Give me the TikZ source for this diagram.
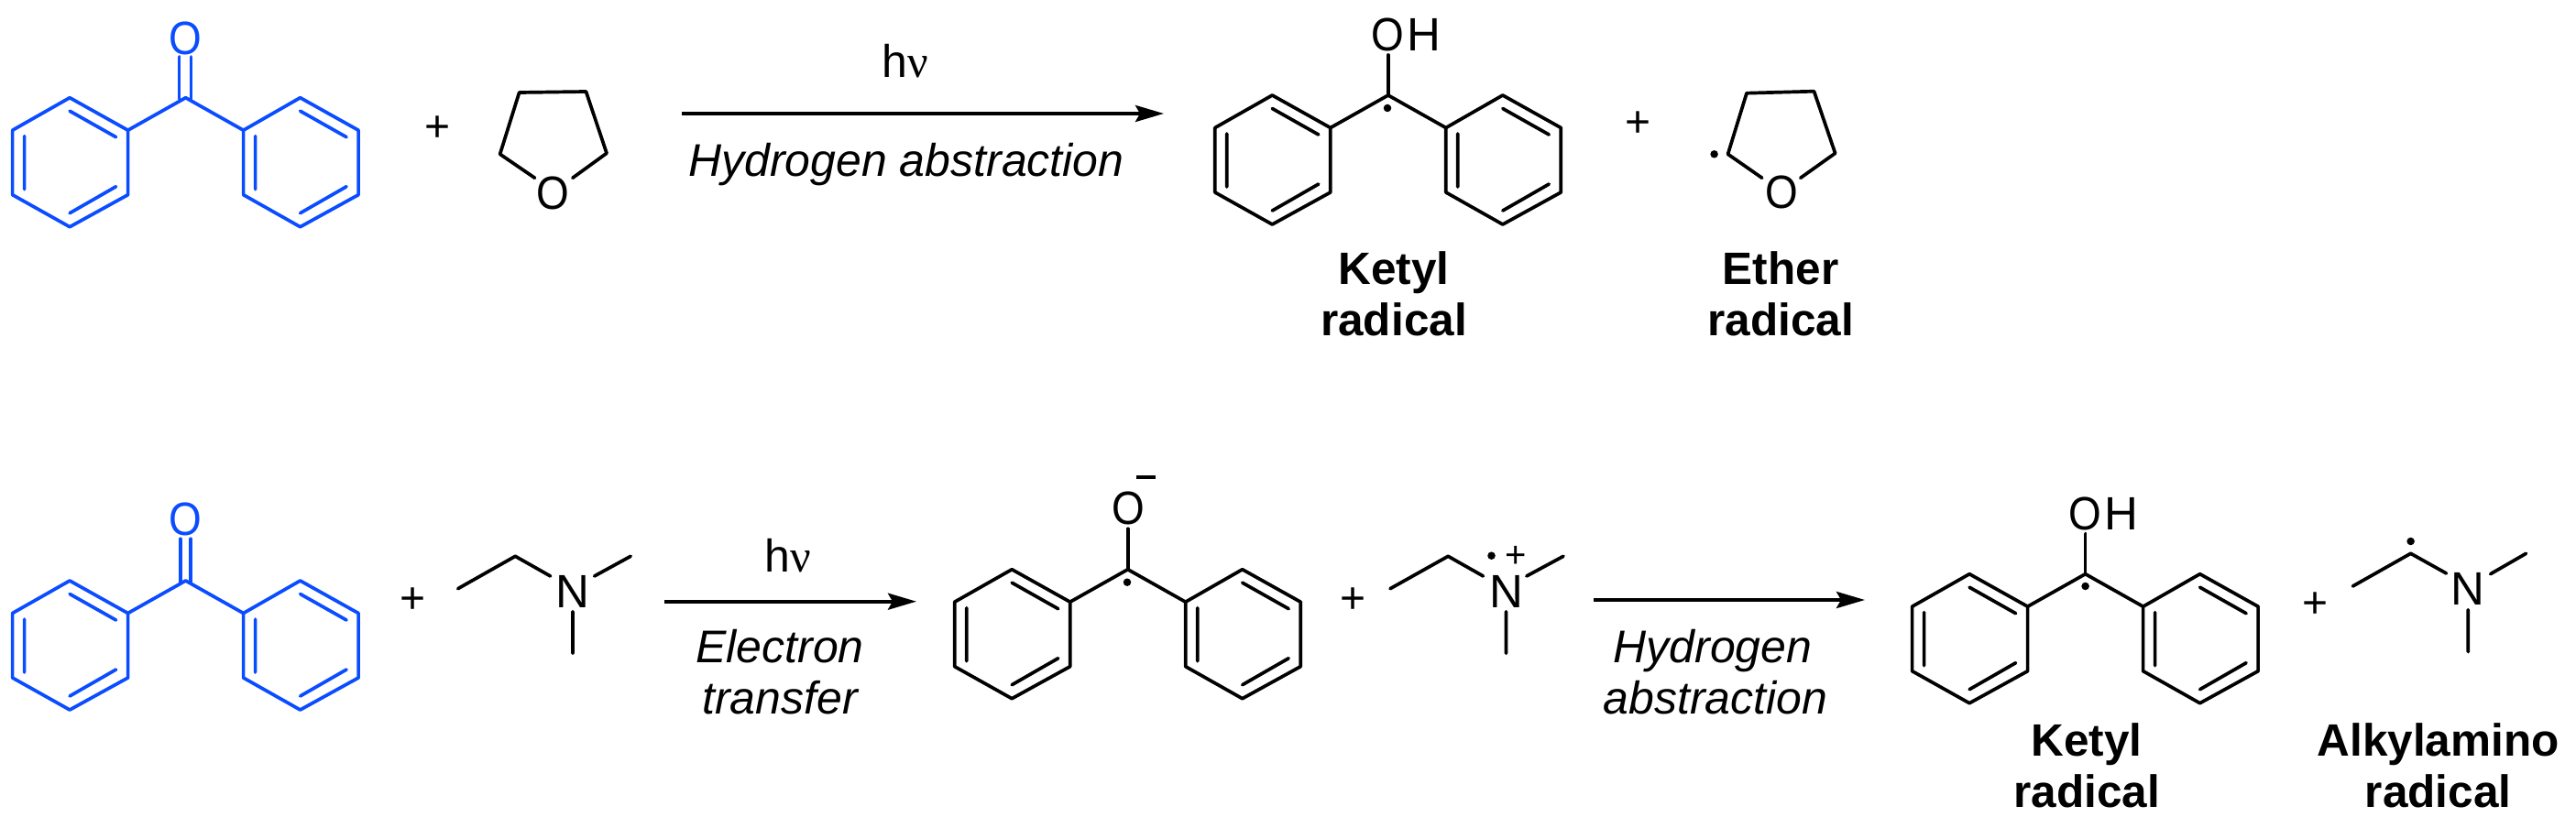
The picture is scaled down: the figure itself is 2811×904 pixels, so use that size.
\documentclass[tikz,border=0pt]{standalone}
\usepackage{fontspec}
\setmainfont{Liberation Sans}
\newfontfamily\greekf{Liberation Serif}
\usetikzlibrary{arrows.meta}
\definecolor{bpblue}{HTML}{0A4CFF}
\newcommand{\nuglyph}{{\greekf ν}}
\newcommand{\narrowO}{\scalebox{0.9}[1]{O}}
\newcommand{\diphenyl}[3]{%
\begin{scope}[shift={(#1,#2)},bond,#3]
\draw (0,0)--(-63,35.5)--(-63,106)--(-126.5,141)--(-189,106)--(-189,35.5)--(-126.5,0)--(-63,35.5);
\draw (-126.5,14.5)--(-76,43) (-176,42)--(-176,100) (-126.5,126)--(-76,97);
\draw (0,0)--(63,35.5)--(63,106)--(125,141)--(188.5,106)--(188.5,35.5)--(125,0)--(63,35.5);
\draw (125,14.5)--(175.5,43) (76,42)--(76,100) (125,126)--(175.5,97);
\end{scope}}
\tikzset{
 bond/.style={line width=3.7pt,line cap=round,line join=round},
 atom/.style={inner sep=0pt,font=\fontsize{51}{51}\selectfont},
 plusn/.style={inner sep=0pt,font=\fontsize{48}{48}\selectfont},
 lab/.style={inner sep=0pt,anchor=base,font=\fontsize{50}{50}\selectfont},
 chemname/.style={lab,font=\fontsize{49.5}{50}\selectfont\bfseries},
 cond/.style={lab,font=\fontsize{50}{50}\selectfont\itshape},
 radical/.style={circle,fill=black,inner sep=0pt,minimum size=8.5pt},
 rxn/.style={line width=3.8pt,-{Stealth[length=31pt,width=18pt,inset=5pt]}}
}
\begin{document}
\begin{tikzpicture}[x=1pt,y=-1pt]
\useasboundingbox (0,0) rectangle (2811,904);
% ---- top row
\diphenyl{202.6}{106.7}{color=bpblue}
\node[atom,text=bpblue] (o1) at (202.6,41.7) {\narrowO};
\draw[bond,bpblue] (195.6,62)--(195.6,108) (208.4,62)--(208.4,108);
\node[plusn] (p1) at (477.6,141) {+};
\coordinate (t1) at (566.6,101); \coordinate (t2) at (639.5,100);
\coordinate (t3) at (662,167.3); \coordinate (t4) at (545.6,168.3);
\node[atom] (o2) at (603.8,210.7) {\narrowO};
\draw[bond] (583.6,194.3)--(t4)--(t1)--(t2)--(t3)--(624.8,194.3);
\coordinate (a1s) at (744,124); \coordinate (a1e) at (1270,124);
\draw[rxn] (a1s)--(a1e);
\node[lab] (hv1) at (988,85) {h\nuglyph};
\node[cond] (c1) at (989,193) {Hydrogen abstraction};
\diphenyl{1514.8}{104}{}
\node[atom,anchor=base west] (oh1) at (1496.7,55.5) {\narrowO\kern3pt H};
\draw[bond] (1514.8,60)--(1514.8,104);
\node[radical] (d1) at (1514,118) {};
\node[plusn] (p2) at (1787.8,136) {+};
\coordinate (u1) at (1906,101.7); \coordinate (u2) at (1979.5,99.7);
\coordinate (u3) at (2002.6,167.3); \coordinate (u4) at (1885.5,168.3);
\node[atom] (o3) at (1944.3,210) {\narrowO};
\draw[bond] (1922.8,194.3)--(u4)--(u1)--(u2)--(u3)--(1964.7,194.3);
\node[radical] (d2) at (1870.6,168.3) {};
\node[chemname] (n1) at (1521,310) {Ketyl};
\node[chemname] (n2) at (1521,366) {radical};
\node[chemname] (n3) at (1943,310) {Ether};
\node[chemname] (n4) at (1943,366) {radical};
% ---- bottom row
\diphenyl{202.6}{634}{color=bpblue}
\node[atom,text=bpblue] (o4) at (202.6,567.3) {\narrowO};
\draw[bond,bpblue] (196.8,588.3)--(196.8,635) (208.3,588.3)--(208.3,635);
\node[plusn] (p3) at (450.5,656) {+};
\node[atom] (n5) at (625,646) {N};
\draw[bond] (499.7,642.7)--(562.3,607.3)--(600.6,629) (648.6,629)--(688.2,607.3) (625,667.7)--(625,713.3);
\coordinate (a2s) at (725,656.7); \coordinate (a2e) at (1000,656.7);
\draw[rxn] (a2s)--(a2e);
\node[lab] (hv2) at (859.4,624) {h\nuglyph};
\node[cond] (c2) at (851,723.3) {Electron};
\node[cond] (c3) at (851,779.3) {transfer};
\diphenyl{1230.7}{621.7}{}
\node[atom] (o5) at (1231.3,555.3) {\narrowO};
\draw[bond] (1230.7,577.3)--(1230.7,621.7);
\draw[bond,line cap=butt] (1239.6,521)--(1260.7,521);
\node[radical] (d3) at (1230,635.7) {};
\node[plusn] (p4) at (1476,656) {+};
\node[atom] (n6) at (1643.5,646) {N};
\draw[bond] (1517,642.7)--(1580.2,607.3)--(1618.5,629) (1665.8,629)--(1706,607.3) (1643.5,667.7)--(1643.5,713.3);
\node[radical] (d4) at (1627.5,606.7) {};
\node[plusn,font=\fontsize{40}{40}\selectfont] (p5) at (1654.3,607.7) {+};
\coordinate (a3s) at (1738.7,655); \coordinate (a3e) at (2035,655);
\draw[rxn] (a3s)--(a3e);
\node[cond] (c4) at (1869,723.3) {Hydrogen};
\node[cond] (c5) at (1872,779.3) {abstraction};
\diphenyl{2275.6}{626.7}{}
\node[atom,anchor=base west] (oh2) at (2257.5,578) {\narrowO\kern3pt H};
\draw[bond] (2275.6,582.7)--(2275.6,626.7);
\node[radical] (d5) at (2275.6,640) {};
\node[plusn] (p6) at (2526,661) {+};
\node[atom] (n7) at (2693.3,643.3) {N};
\draw[bond] (2567.4,640)--(2630.6,604.3)--(2669.5,626) (2717.6,626.7)--(2756.5,604.3) (2693.3,665.7)--(2693.3,711.7);
\node[radical] (d6) at (2630.6,591) {};
\node[chemname] (n8) at (2277,825.7) {Ketyl};
\node[chemname] (n9) at (2277,881.7) {radical};
\node[chemname] (n10) at (2660.6,825.7) {Alkylamino};
\node[chemname] (n11) at (2660.6,881.7) {radical};
\end{tikzpicture}
\end{document}
